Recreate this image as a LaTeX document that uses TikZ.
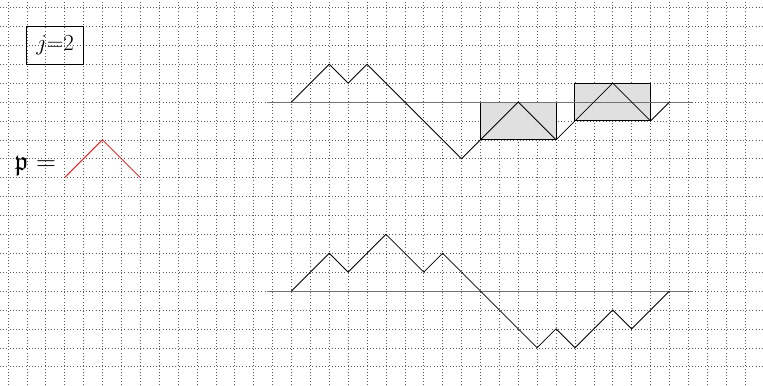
\documentclass[tikz,border=0pt]{standalone}
\usepackage{amssymb}
\begin{document}
\begin{tikzpicture}[x=0.5cm,y=0.5cm,
  gridline/.style={dotted, black!65, line width=0.4pt, step=0.5cm},
  axisline/.style={black!55, line width=0.5pt},
  pathline/.style={black, line width=0.6pt},
  blockbox/.style={draw=black, fill=black!12, line width=0.8pt},
  framebox/.style={draw=black, line width=0.8pt, minimum width=1.5cm, minimum height=1cm, inner sep=0pt},
  redpath/.style={red, line width=0.6pt}]
\useasboundingbox (-0.42,-0.97) rectangle (39.95,19.4);
\begin{scope}
\clip (-0.42,-0.97) rectangle (39.95,19.4);
\draw[gridline] (-0.42,-0.97) grid (39.95,19.4);
\end{scope}
% label box
\node[framebox] (jbox) at (2.5,17) {\LARGE$j{=}2$};
% p =
\node[anchor=east, inner sep=0pt] (plabel) at (2.55,10.6) {\huge$\mathfrak{p} =$};
\coordinate (r0) at (3,10);
\coordinate (r1) at (5,12);
\coordinate (r2) at (7,10);
\draw[redpath] (r0) -- (r1) -- (r2);
% upper picture
\node[blockbox, minimum width=2cm, minimum height=1cm, inner sep=0pt] (blockA) at (27,13) {};
\node[blockbox, minimum width=2cm, minimum height=1cm, inner sep=0pt] (blockB) at (32,14) {};
\coordinate (ua) at (13.7,14);
\coordinate (ub) at (36.2,14);
\draw[axisline] (ua) -- (ub);
\draw[pathline] (15,14) -- (17,16) -- (18,15) -- (19,16) -- (24,11) -- (25,12)
  -- (27,14) -- (29,12) -- (30,13) -- (32,15) -- (34,13) -- (35,14);
% lower picture
\coordinate (la) at (13.7,4);
\coordinate (lb) at (36.2,4);
\draw[axisline] (la) -- (lb);
\draw[pathline] (15,4) -- (17,6) -- (18,5) -- (20,7) -- (22,5) -- (23,6) -- (28,1)
  -- (29,2) -- (30,1) -- (32,3) -- (33,2) -- (35,4);
\end{tikzpicture}
\end{document}
